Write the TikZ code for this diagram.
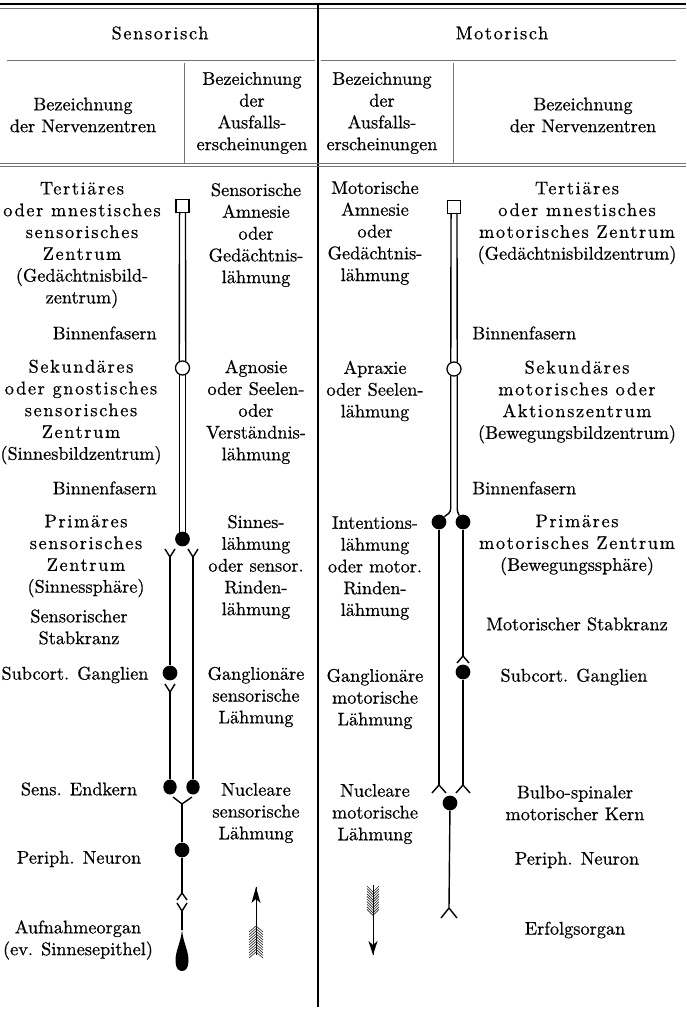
\documentclass[tikz,border=0pt]{standalone}
\usepackage{fontspec}
\setmainfont{lmroman10-regular.otf}[FakeBold=0.6]
\newfontfamily\gsp{lmroman10-regular.otf}[LetterSpace=9, FakeBold=0.6]
\usetikzlibrary{shapes.geometric}

\begin{document}
\begin{tikzpicture}[x=0.025cm, y=-0.025cm,
    txt/.style={align=center, inner sep=0pt, font=\fontsize{13}{15.5}\selectfont},
    fiber/.style={line width=1pt},
    rule/.style={line width=0.4pt, black!55},
    soma/.style={circle, fill, inner sep=0pt, minimum size=10.5pt},
    opensoma/.style={circle, draw, line width=0.9pt, fill=white, inner sep=0pt, minimum size=10pt},
    cell/.style={rectangle, draw, line width=0.9pt, inner sep=0pt, minimum size=9.4pt},
    kern/.style={ellipse, fill, inner sep=0pt, minimum width=9.5pt, minimum height=10.7pt},
    feather/.style={line width=0.45pt, black!85}]
    \useasboundingbox (0,0) rectangle (686,1010);

    % Table rules
    \draw[line width=2pt] (0,4) -- (686,4);
    \draw[rule] (0,8.5) -- (686,8.5);
    \draw[line width=1.4pt] (318,5) -- (318,1007);
    \draw[rule] (7,60) -- (315,60);
    \draw[rule] (321,60) -- (676,60);
    \draw[rule] (184,63) -- (184,163);
    \draw[rule] (453,63) -- (453,163);
    \draw[rule] (0,163) -- (686,163);
    \draw[rule] (0,166.5) -- (686,166.5);

    % Head
    \node[txt] (sens) at (160,33) {\gsp Sensorisch};
    \node[txt] (mot) at (502,33) {\gsp Motorisch};
    \node[txt] (hzl) at (83,115) {Bezeichnung\\der Nervenzentren};
    \node[txt] (hal) at (252,113) {Bezeichnung\\der\\Ausfalls-\\erscheinungen};
    \node[txt] (har) at (382,113) {Bezeichnung\\der\\Ausfalls-\\erscheinungen};
    \node[txt] (hzr) at (583,115) {Bezeichnung\\der Nervenzentren};

    % Sensory centres
    \node[txt] (tert) at (82,245) {{\gsp Tertiäres}\\{\gsp oder mnestisches}\\{\gsp sensorisches}\\{\gsp Zentrum}\\(Gedächtnisbild-\\zentrum)};
    \node[txt, anchor=east] (binl1) at (157,333) {Binnenfasern};
    \node[txt] (seks) at (81,412) {{\gsp Sekundäres}\\{\gsp oder gnostisches}\\{\gsp sensorisches}\\{\gsp Zentrum}\\(Sinnesbildzentrum)};
    \node[txt, anchor=east] (binl2) at (157,488) {Binnenfasern};
    \node[txt] (prims) at (86,556) {{\gsp Primäres}\\{\gsp sensorisches}\\{\gsp Zentrum}\\(Sinnessphäre)};
    \node[txt] (stabs) at (79,627) {Sensorischer\\Stabkranz};
    \node[txt] (gangs) at (75,675) {Subcort. Ganglien};
    \node[txt] (endk) at (79,789) {Sens. Endkern};
    \node[txt] (pers) at (79,859) {Periph. Neuron};
    \node[txt] (aufn) at (78,940) {Aufnahmeorgan\\(ev. Sinnesepithel)};

    % Sensory losses
    \node[txt] (amn) at (256,235) {Sensorische\\Amnesie\\oder\\Gedächtnis-\\lähmung};
    \node[txt] (agn) at (256,412) {Agnosie\\oder Seelen-\\oder\\Verständnis-\\lähmung};
    \node[txt] (sin) at (256,567) {Sinnes-\\lähmung\\oder sensor.\\Rinden-\\lähmung};
    \node[txt] (gsl) at (256,697) {Ganglionäre\\sensorische\\Lähmung};
    \node[txt] (nsl) at (256,813) {Nucleare\\sensorische\\Lähmung};

    % Motor losses
    \node[txt] (mamn) at (375,233) {Motorische\\Amnesie\\oder\\Gedächtnis-\\lähmung};
    \node[txt] (apr) at (375,391) {Apraxie\\oder Seelen-\\lähmung};
    \node[txt] (int) at (375,568) {Intentions-\\lähmung\\oder motor.\\Rinden-\\lähmung};
    \node[txt] (gml) at (375,699) {Ganglionäre\\motorische\\Lähmung};
    \node[txt] (nml) at (375,814) {Nucleare\\motorische\\Lähmung};

    % Motor centres
    \node[txt] (tertm) at (577,223) {{\gsp Tertiäres}\\{\gsp oder mnestisches}\\{\gsp motorisches Zentrum}\\(Gedächtnisbildzentrum)};
    \node[txt, anchor=west] (binr1) at (472,333) {Binnenfasern};
    \node[txt] (sekm) at (577,402) {{\gsp Sekundäres}\\{\gsp motorisches oder}\\{\gsp Aktionszentrum}\\(Bewegungsbildzentrum)};
    \node[txt, anchor=west] (binr2) at (472,488) {Binnenfasern};
    \node[txt] (primm) at (577,545) {{\gsp Primäres}\\{\gsp motorisches Zentrum}\\(Bewegungssphäre)};
    \node[txt] (stabm) at (577,624) {Motorischer Stabkranz};
    \node[txt] (gangm) at (574,677) {Subcort. Ganglien};
    \node[txt] (bulb) at (575,803) {Bulbo-spinaler\\motorischer Kern};
    \node[txt] (perm) at (577,860) {Periph. Neuron};
    \node[txt] (erf) at (575,930) {Erfolgsorgan};

    % Sensory path
    \node[cell] (tsq) at (182.5,206) {};
    \node[opensoma] (gsc) at (182.5,368) {};
    \node[soma] (psc) at (182.5,539) {};
    \node[soma] (sgc) at (170,673) {};
    \node[kern] (eka) at (170,787) {};
    \node[kern] (ekb) at (193,787) {};
    \node[soma] (pnc) at (182,850) {};
    \coordinate (ya) at (170,557);
    \coordinate (yb) at (193,557);
    \coordinate (yc) at (170,692);
    \coordinate (yd) at (182,804);
    \coordinate (ta) at (182,893);
    \coordinate (ye) at (182,911);
    \coordinate (tdt) at (182,930);
    \draw[fiber] ([xshift=-2.1pt]tsq.south) -- (gsc.115);
    \draw[fiber] ([xshift=2.1pt]tsq.south) -- (gsc.65);
    \draw[fiber] (gsc.245) -- (gsc.245 |- psc.center);
    \draw[fiber] (gsc.295) -- (gsc.295 |- psc.center);
    \draw[fiber] (ya) -- +(-5,-8) (ya) -- +(5,-8);
    \draw[fiber] (yb) -- +(-5,-8) (yb) -- +(5,-8);
    \draw[fiber] (ya) -- (sgc);
    \draw[fiber] (yc) -- +(-5,-8) (yc) -- +(5,-8);
    \draw[fiber] (yc) -- (eka);
    \draw[fiber] (yb) -- (ekb);
    \draw[fiber] (yd) -- +(-9,-7) (yd) -- +(10,-7);
    \draw[fiber] (yd) -- (pnc);
    \draw[fiber] (pnc) -- (ta);
    \draw[fiber] (ta) -- +(-5,7) (ta) -- +(5,7);
    \draw[fiber] (ye) -- +(-5,-8) (ye) -- +(5,-8);
    \draw[fiber] (ye) -- (tdt);
    \fill (tdt) .. controls (183.5,944) and (188.5,950) .. (188.5,961)
        .. controls (188.5,968) and (185.5,971) .. (182,971)
        .. controls (178.5,971) and (175.5,968) .. (175.5,961)
        .. controls (175.5,950) and (180.5,944) .. (tdt) -- cycle;

    % Motor path
    \node[cell] (tsqm) at (454,207) {};
    \node[opensoma] (gscm) at (454,369) {};
    \node[soma] (pca) at (439,522) {};
    \node[soma] (pcb) at (463,522) {};
    \node[soma] (sgm) at (463,672) {};
    \node[soma] (bsc) at (450,803) {};
    \coordinate (cpa) at (439,785);
    \coordinate (cpb) at (463,656);
    \coordinate (cpc) at (463,785);
    \coordinate (cpd) at (449,908);
    \draw[fiber] ([xshift=-2.1pt]tsqm.south) -- (gscm.115);
    \draw[fiber] ([xshift=2.1pt]tsqm.south) -- (gscm.65);
    \draw[fiber] (gscm.245) -- (gscm.245 |- 0,508) .. controls +(0,5) and +(3,-2) .. (pca.45);
    \draw[fiber] (gscm.295) -- (gscm.295 |- 0,508) .. controls +(0,4) and +(-1,-2) .. (pcb.120);
    \draw[fiber] (pca) -- (cpa);
    \draw[fiber] (cpa) -- +(-7,8) (cpa) -- +(7,8);
    \draw[fiber] (pcb) -- (cpb);
    \draw[fiber] (cpb) -- +(-6,7) (cpb) -- +(6,7);
    \draw[fiber] (sgm) -- (cpc);
    \draw[fiber] (cpc) -- +(-7,8) (cpc) -- +(7,8);
    \draw[fiber] (bsc) -- (cpd);
    \draw[fiber] (cpd) -- +(-8,10) (cpd) -- +(8,10);

    % Arrows
    \coordinate (ua) at (256,887);
    \coordinate (ub) at (256,955);
    \draw[line width=0.6pt] (ub) -- (ua);
    \fill (ua) -- +(-4.5,16) -- +(0,12) -- +(4.5,16) -- cycle;
    \foreach \f in {0,...,10}
        \draw[feather] (256,{926+2.6*\f}) -- +(-7,6) (256,{926+2.6*\f}) -- +(7,6);
    \coordinate (da) at (373,885);
    \coordinate (db) at (373,955);
    \draw[line width=0.6pt] (da) -- (db);
    \fill (db) -- +(-4.5,-14) -- +(0,-10) -- +(4.5,-14) -- cycle;
    \foreach \f in {0,...,9}
        \draw[feather] (373,{892+2.6*\f}) -- +(-6,-6) (373,{892+2.6*\f}) -- +(6,-6);
\end{tikzpicture}
\end{document}
